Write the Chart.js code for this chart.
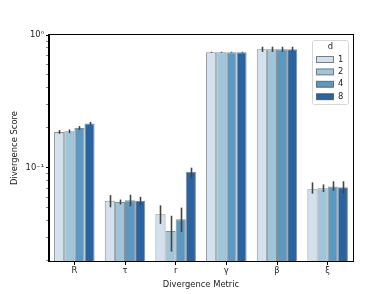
<!DOCTYPE html>
<html>
<head>
<meta charset="utf-8">
<script src="https://cdn.jsdelivr.net/npm/chart.js@4/dist/chart.umd.min.js"></script>
<style>
  html, body { margin: 0; padding: 0; background: #fff; }
  #wrap { width: 392px; height: 294px; }
</style>
</head>
<body>
<div id="wrap"><canvas id="chart" width="392" height="294"></canvas></div>
<script>
// categories and hue levels
const metrics = ['R', 'τ', 'r', 'γ', 'β', 'ξ'];
const dLevels = ['1', '2', '4', '8'];
const colors = ['#d3e1ef', '#9fc5da', '#5b98c2', '#2a64a0'];

// mean divergence per d level (order follows metrics)
const d1 = [0.186, 0.0564, 0.0446, 0.741, 0.780, 0.0687];
const d2 = [0.188, 0.0551, 0.0333, 0.741, 0.780, 0.0700];
const d4 = [0.199, 0.0568, 0.0408, 0.741, 0.780, 0.0720];
const d8 = [0.215, 0.0561, 0.0929, 0.741, 0.780, 0.0712];

// confidence interval bounds
const d1Lo = [0.180, 0.0503, 0.0377, 0.735, 0.745, 0.0637];
const d1Hi = [0.192, 0.0621, 0.0520, 0.747, 0.816, 0.0774];
const d2Lo = [0.182, 0.0528, 0.0233, 0.735, 0.745, 0.0655];
const d2Hi = [0.194, 0.0575, 0.0434, 0.747, 0.816, 0.0748];
const d4Lo = [0.192, 0.0512, 0.0327, 0.735, 0.745, 0.0670];
const d4Hi = [0.206, 0.0625, 0.0500, 0.747, 0.816, 0.0790];
const d8Lo = [0.209, 0.0520, 0.0832, 0.735, 0.745, 0.0635];
const d8Hi = [0.221, 0.0603, 0.1000, 0.747, 0.816, 0.0790];

const yMin = 0.0198;
const yMax = 1;
const yTicks = [0.02, 0.03, 0.04, 0.05, 0.06, 0.07, 0.08, 0.09, 0.1, 0.2, 0.3, 0.4, 0.5, 0.6, 0.7, 0.8, 0.9, 1];

const series = [d1, d2, d4, d8];
const lows = [d1Lo, d2Lo, d4Lo, d8Lo];
const highs = [d1Hi, d2Hi, d4Hi, d8Hi];

const FONT = 'DejaVu Sans';

// error bars drawn through the y scale
const errorBars = {
    id: 'errorBars',
    afterDatasetsDraw(chart) {
        const ctx = chart.ctx;
        const y = chart.scales.y;
        ctx.save();
        ctx.strokeStyle = '#444';
        ctx.lineWidth = 1.6;
        chart.data.datasets.forEach((ds, i) => {
            const meta = chart.getDatasetMeta(i);
            meta.data.forEach((bar, j) => {
                const top = y.getPixelForValue(ds.errHi[j]);
                const bot = y.getPixelForValue(ds.errLo[j]);
                ctx.beginPath();
                ctx.moveTo(Math.round(bar.x) + 0.5, top);
                ctx.lineTo(Math.round(bar.x) + 0.5, bot);
                ctx.stroke();
            });
        });
        ctx.restore();
    }
};

// frame around plot and legend box in upper right
const frameAndLegend = {
    id: 'frameAndLegend',
    afterDraw(chart) {
        const ctx = chart.ctx;
        const a = chart.chartArea;
        ctx.save();
        ctx.strokeStyle = '#000';
        ctx.lineWidth = 1;
        ctx.strokeRect(Math.round(a.left) - 0.5, Math.round(a.top) - 0.5, Math.round(a.right - a.left) + 1, Math.round(a.bottom - a.top) + 1);

        // legend
        const lx = 312, ly = 40, lw = 36, lh = 64;
        ctx.fillStyle = 'rgba(255,255,255,0.8)';
        ctx.strokeStyle = '#d6d6d6';
        ctx.beginPath();
        ctx.roundRect(lx + 0.5, ly + 0.5, lw, lh, 2);
        ctx.fill();
        ctx.stroke();
        ctx.fillStyle = '#222';
        ctx.font = '8.4px ' + FONT;
        ctx.textAlign = 'center';
        ctx.textBaseline = 'middle';
        ctx.fillText('d', lx + lw / 2 + 0.5, ly + 7);
        chart.data.datasets.forEach((ds, i) => {
            const ry = ly + 19 + i * 12.4;
            ctx.fillStyle = ds.backgroundColor;
            ctx.fillRect(lx + 4.5, ry - 2.5, 17, 6);
            ctx.strokeStyle = 'rgba(50,50,50,0.6)';
            ctx.strokeRect(lx + 4.5, ry - 2.5, 17, 6);
            ctx.fillStyle = '#222';
            ctx.textAlign = 'left';
            ctx.fillText(ds.label, lx + 26, ry + 0.5);
        });
        ctx.restore();
    }
};

const datasets = dLevels.map((lvl, i) => ({
    label: lvl,
    data: series[i],
    errLo: lows[i],
    errHi: highs[i],
    backgroundColor: colors[i],
    borderColor: 'rgba(50,50,50,0.55)',
    borderWidth: 1,
    categoryPercentage: 0.8,
    barPercentage: 1.0
}));

new Chart(document.getElementById('chart'), {
    type: 'bar',
    data: { labels: metrics, datasets: datasets },
    options: {
        responsive: false,
        animation: false,
        events: [],
        layout: { padding: { left: 0, right: 39, top: 35, bottom: 0 } },
        plugins: { legend: { display: false }, tooltip: { enabled: false } },
        scales: {
            x: {
                grid: { display: true, drawOnChartArea: false, drawTicks: true, tickLength: 4, offset: false, color: '#000' },
                border: { display: true, color: '#000' },
                ticks: { color: '#222', font: { family: FONT, size: 8.4 }, padding: 1 },
                title: { display: true, text: 'Divergence Metric', color: '#222', font: { family: FONT, size: 8.4 }, padding: { top: 1 } },
                afterFit(scale) { scale.height = 33; }
            },
            y: {
                type: 'logarithmic',
                min: yMin,
                max: yMax,
                afterBuildTicks(scale) { scale.ticks = yTicks.map(v => ({ value: v, major: v === 1 || v === 0.1 })); },
                grid: {
                    display: true, drawOnChartArea: false, drawTicks: true, tickLength: 3,
                    color: '#000',
                    tickColor: (c) => (c.tick && (c.tick.value === 1 || c.tick.value === 0.1)) ? '#000' : '#555',
                    tickWidth: (c) => (c.tick && (c.tick.value === 1 || c.tick.value === 0.1)) ? 1 : 0.7
                },
                border: { display: true, color: '#000' },
                ticks: {
                    autoSkip: false,
                    color: '#222',
                    font: { family: FONT, size: 8.4 },
                    padding: 2,
                    callback: (v) => v === 1 ? '10\u2070' : (Math.abs(v - 0.1) < 1e-9 ? '10\u207B\u00B9' : '')
                },
                title: { display: true, text: 'Divergence Score', color: '#222', font: { family: FONT, size: 8.4 }, padding: { top: 10, bottom: 4 } },
                afterFit(scale) { scale.width = 49; }
            }
        }
    },
    plugins: [errorBars, frameAndLegend]
});
</script>
</body>
</html>
